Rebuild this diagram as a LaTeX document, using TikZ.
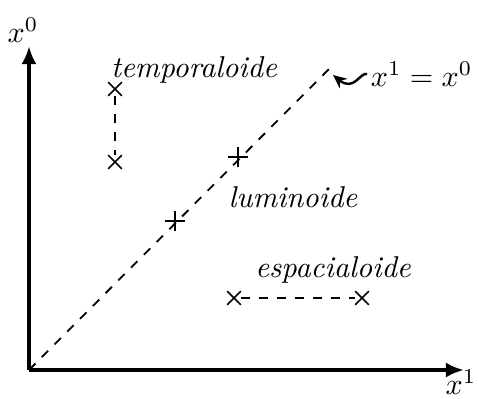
\documentclass[tikz,border=0pt]{standalone}
\usetikzlibrary{arrows.meta,shapes.misc}
\begin{document}
\begin{tikzpicture}[x=0.332pt,y=-0.332pt,
  axis/.style={line width=1.3pt,-{Latex[length=6pt,width=5pt]}},
  evx/.style={cross out,draw,line width=0.5pt,minimum size=4pt,inner sep=0pt},
  evp/.style={cross out,draw,line width=0.5pt,minimum size=4.4pt,inner sep=0pt,rotate=45},
  sep/.style={dashed,line width=0.6pt},
  lbl/.style={font=\itshape}]
\useasboundingbox (0,0) rectangle (479,398);
\coordinate (O) at (29,370);
\coordinate (X) at (464,370);
\coordinate (Y) at (29,46);
\coordinate (D) at (330,68);
\draw[axis] (O) -- (X);
\draw[axis] (O) -- (Y);
\node (x0) at (23,30) {$x^0$};
\node (x1) at (461,382) {$x^1$};
\draw[sep] (O) -- (D);
\node[evx] (t1) at (115,89) {};
\node[evx] (t2) at (115,162) {};
\draw[sep] (t1) -- (t2);
\node[evx] (s1) at (234,298) {};
\node[evx] (s2) at (362,298) {};
\draw[sep] (s1) -- (s2);
\node[evp] (l1) at (175,221) {};
\node[evp] (l2) at (238,157) {};
\node[lbl] (tl) at (194,70) {temporaloide};
\node[lbl] (ll) at (293,197) {luminoide};
\node[lbl] (el) at (333,270) {espacialoide};
\node[anchor=east,inner sep=1pt] (eq) at (476,74) {$x^1=x^0$};
\draw[line width=0.8pt,-{Stealth[length=4.5pt,width=4pt]}] (eq.west) .. controls (360,72) and (354,92) .. (333,75);
\end{tikzpicture}
\end{document}
